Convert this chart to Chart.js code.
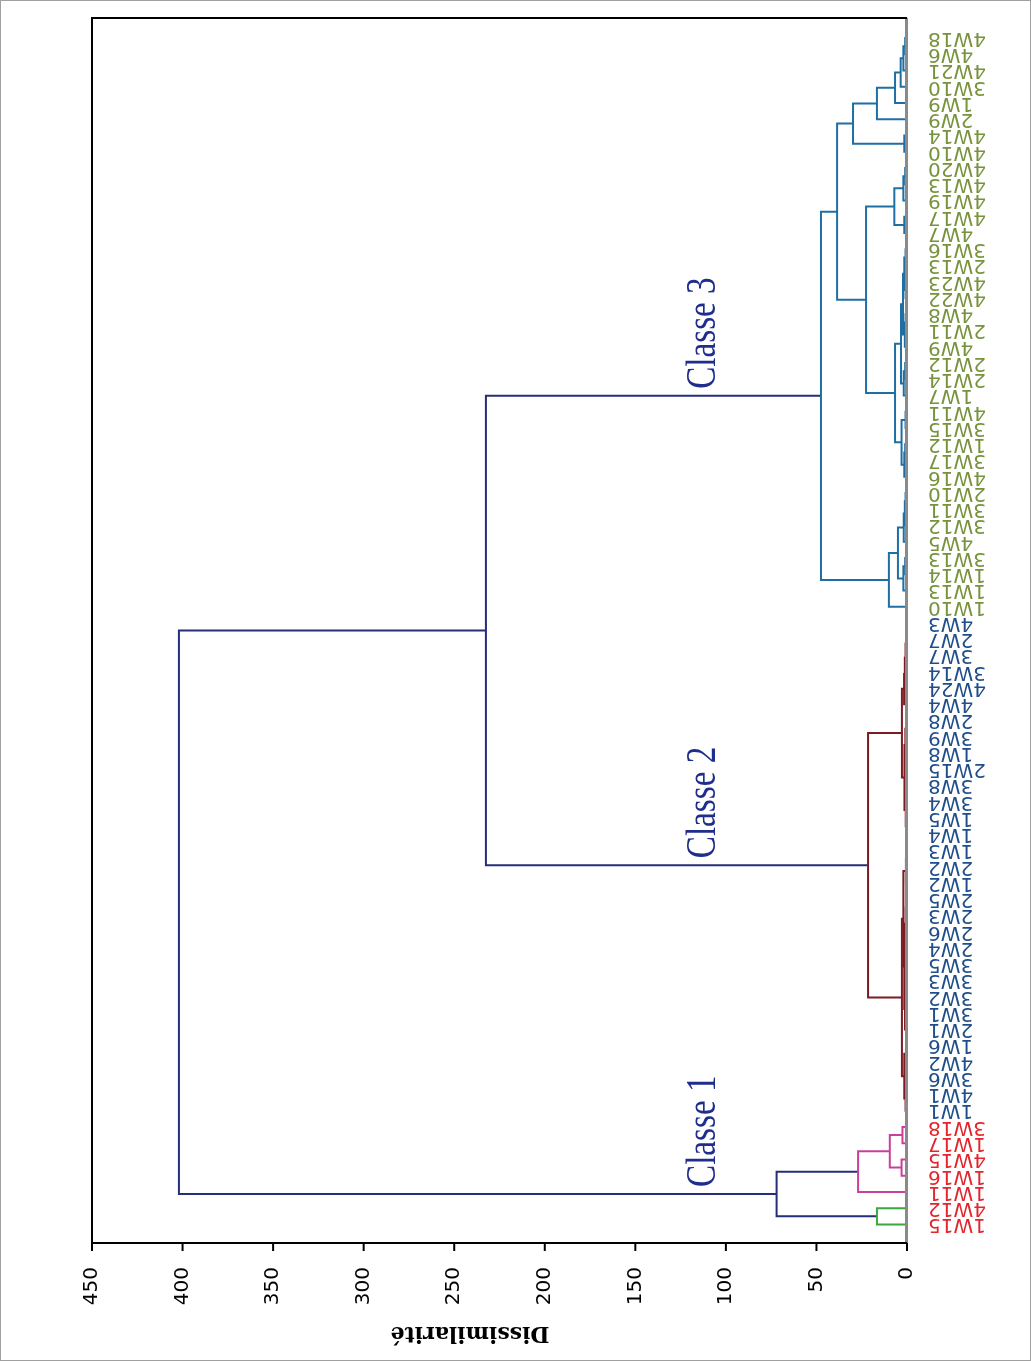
<!DOCTYPE html>
<html><head><meta charset="utf-8">
<script src="https://cdn.jsdelivr.net/npm/chart.js@4.4.1/dist/chart.umd.min.js"></script>
<style>html,body{margin:0;padding:0;background:#fff;}#wrap{width:1031px;height:1361px;position:relative;}</style>
</head><body><div id="wrap"><canvas id="c"></canvas></div>
<script>
// ---- data ----
const class3Leaves = ["4W18","4W6","4W21","3W10","1W9","2W9","4W14","4W10","4W20","4W13","4W19","4W17","4W7","3W16","2W13","4W23","4W22","4W8","2W11","4W9","2W12","2W14","1W7","4W11","3W15","1W12","3W17","4W16","2W10","3W11","3W12","4W5","3W13","1W14","1W13","1W10"];
const class2Leaves = ["4W3","2W7","3W7","3W14","4W24","4W4","2W8","3W9","1W8","2W15","3W8","3W4","1W5","1W4","1W3","2W2","1W2","2W5","2W3","2W6","2W4","3W5","3W3","3W2","3W1","2W1","1W6","4W2","3W6","4W1","1W1"];
const class1Leaves = ["3W18","1W17","4W15","1W16","1W11","4W12","1W15"];
const greenLeaves = ["4W12","1W15"];
const classNames = ["Classe 1","Classe 2","Classe 3"];
const classNodes = ["n71","n64","n34"];
const dissimTicks = [0,50,100,150,200,250,300,350,400,450];
const axisTitle = "Dissimilarité";
// linkage: node nK joins mergeA[K] and mergeB[K] at height mergeH[K]
const mergeA = ["4W18","n0","n1","n2","n3","4W14","n4","4W20","n7","4W17","n8","3W16","4W23","n11","4W8","n14","n13","2W12","n17","n16","4W11","1W12","n21","n20","n19","n10","n6","2W10","n27","n28","3W13","n30","n29","n32","n26",
 "4W3","n35","n36","n37","n38","2W8","1W8","n40","3W8","1W5","n43","n42","n39","1W3","n48","2W5","2W6","n50","3W5","3W2","n53","n55","n52","n49","1W6","3W6","n60","n59","n58","n47","n34",
 "3W18","4W15","n66","n68","4W12","n69","n65"];
const mergeB = ["4W6","4W21","3W10","1W9","2W9","4W10","n5","4W13","4W19","4W7","n9","2W13","4W22","n12","2W11","4W9","n15","2W14","1W7","n18","3W15","3W17","4W16","n22","n23","n24","n25","3W11","3W12","4W5","1W14","1W13","n31","1W10","n33",
 "2W7","3W7","3W14","4W24","4W4","3W9","2W15","n41","3W4","1W4","n44","n45","n46","2W2","1W2","2W3","2W4","n51","3W3","3W1","n54","2W1","n56","n57","4W2","4W1","1W1","n61","n62","n63","n64",
 "1W17","1W16","n67","1W11","1W15","n70","n71"];
const mergeH = [1.0,2.0,3.5,6.6,16.6,1.5,29.8,1.0,2.0,1.5,7.0,0.8,0.8,1.5,0.8,1.2,2.2,1.0,1.8,3.3,0.8,1.0,1.5,3.0,6.6,22.6,38.6,0.8,1.2,1.8,1.0,2.0,5.0,10.0,47.5,
 0.3,0.5,0.8,1.2,1.6,0.3,0.4,0.9,0.3,0.3,0.7,1.4,2.8,0.3,0.6,0.3,0.3,0.7,0.3,0.4,0.8,1.1,1.5,2.0,0.4,0.4,0.8,1.5,2.8,21.5,232.5,
 2.5,3.0,9.5,27.0,16.6,72.0,402.0];

// ---- styles ----
const COL = {c3:"#1f6fa3", c2:"#7d1a22", green:"#3aa83a", magenta:"#c8409c", top:"#252e78"};
const LABCOL = {c3:"#77933c", c2:"#1f4e8a", c1:"#e3262d"};

const leaves = class3Leaves.concat(class2Leaves, class1Leaves);
const pos = {}; leaves.forEach((l,i)=>pos[l]=i);
function groupOf(l){
  if (class3Leaves.includes(l)) return "c3";
  if (class2Leaves.includes(l)) return "c2";
  if (greenLeaves.includes(l)) return "green";
  return "magenta";
}
const nodes = {};
function ref(r){ return (r in pos) ? {y:pos[r], h:0, members:[r]} : nodes[r]; }
const datasets = [];
mergeA.forEach((a,k)=>{
  const A = ref(a), B = ref(mergeB[k]), h = mergeH[k];
  const members = A.members.concat(B.members);
  nodes["n"+k] = {y:(A.y+B.y)/2, h, members};
  const gs = new Set(members.map(groupOf));
  const color = gs.size===1 ? COL[[...gs][0]] : COL.top;
  datasets.push({
    data:[{x:A.h,y:A.y},{x:h,y:A.y},{x:h,y:B.y},{x:B.h,y:B.y}],
    showLine:true, borderColor:color, borderWidth:2, pointRadius:0, tension:0, fill:false
  });
});

const drawPlugin = {
  id:"dendroDecor",
  afterDatasetsDraw(chart){
    const {ctx, chartArea:ca, scales:{x:xs, y:ys}} = chart;
    ctx.save();
    ctx.lineCap = "butt";
    ctx.strokeStyle = "#8a8a8a"; ctx.lineWidth = 3;
    ctx.beginPath(); ctx.moveTo(ca.right-0.5, ca.top); ctx.lineTo(ca.right-0.5, ca.bottom); ctx.stroke();
    ctx.strokeStyle = "#000"; ctx.lineWidth = 2;
    ctx.beginPath();
    ctx.moveTo(ca.right, ca.top); ctx.lineTo(ca.left, ca.top); ctx.lineTo(ca.left, ca.bottom); ctx.lineTo(ca.right, ca.bottom);
    ctx.stroke();
    dissimTicks.forEach(t=>{
      const px = xs.getPixelForValue(t);
      ctx.beginPath(); ctx.moveTo(px, ca.bottom); ctx.lineTo(px, ca.bottom+8); ctx.stroke();
    });
    ctx.restore();
  },
  afterDraw(chart){
    const {ctx, chartArea:ca, scales:{x:xs, y:ys}} = chart;
    ctx.save();
    ctx.strokeStyle = "#a0a0a0"; ctx.lineWidth = 1;
    ctx.strokeRect(0.5,0.5,chart.width-1,chart.height-1);
    ctx.fillStyle = "#000"; ctx.font = '20px "DejaVu Sans"';
    dissimTicks.forEach(t=>{
      const px = xs.getPixelForValue(t);
      ctx.save(); ctx.translate(px, ca.bottom+24); ctx.rotate(-Math.PI/2);
      ctx.textAlign = "right"; ctx.textBaseline = "middle";
      ctx.fillText(String(t), 0, 0); ctx.restore();
    });
    ctx.save(); ctx.translate(ca.left+378, ca.bottom+90); ctx.rotate(Math.PI);
    ctx.font = 'bold 22px "DejaVu Serif"'; ctx.textAlign = "center"; ctx.textBaseline = "middle";
    ctx.fillText(axisTitle, 0, 0); ctx.restore();
    ctx.font = '20px "DejaVu Sans"';
    leaves.forEach((l,i)=>{
      const py = ys.getPixelForValue(i);
      const cls = class3Leaves.includes(l) ? "c3" : class2Leaves.includes(l) ? "c2" : "c1";
      ctx.save(); ctx.translate(ca.right+21, py); ctx.rotate(Math.PI);
      ctx.fillStyle = LABCOL[cls]; ctx.textAlign = "right"; ctx.textBaseline = "middle";
      ctx.fillText(l, 0, 0); ctx.restore();
    });
    ctx.font = '42px "Liberation Serif"'; ctx.fillStyle = "#1f2d8c";
    classNodes.forEach((n,k)=>{
      const py = ys.getPixelForValue(nodes[n].y) - 7;
      const px = xs.getPixelForValue(106);
      ctx.save(); ctx.translate(px, py); ctx.rotate(-Math.PI/2); ctx.scale(0.79, 1);
      ctx.textAlign = "left"; ctx.textBaseline = "alphabetic";
      ctx.fillText(classNames[k], 0, 0); ctx.restore();
    });
    ctx.restore();
  }
};

new Chart(document.getElementById("c"), {
  type:"scatter",
  data:{datasets},
  options:{
    responsive:true, maintainAspectRatio:false, animation:false, devicePixelRatio:1,
    layout:{padding:{left:92, right:124, top:18, bottom:118}},
    plugins:{legend:{display:false}, tooltip:{enabled:false}},
    scales:{
      x:{type:"linear", reverse:true, min:0, max:450, display:false},
      y:{type:"linear", reverse:true, min:-1.2305, max:74.14, display:false}
    }
  },
  plugins:[drawPlugin]
});
</script></body></html>
